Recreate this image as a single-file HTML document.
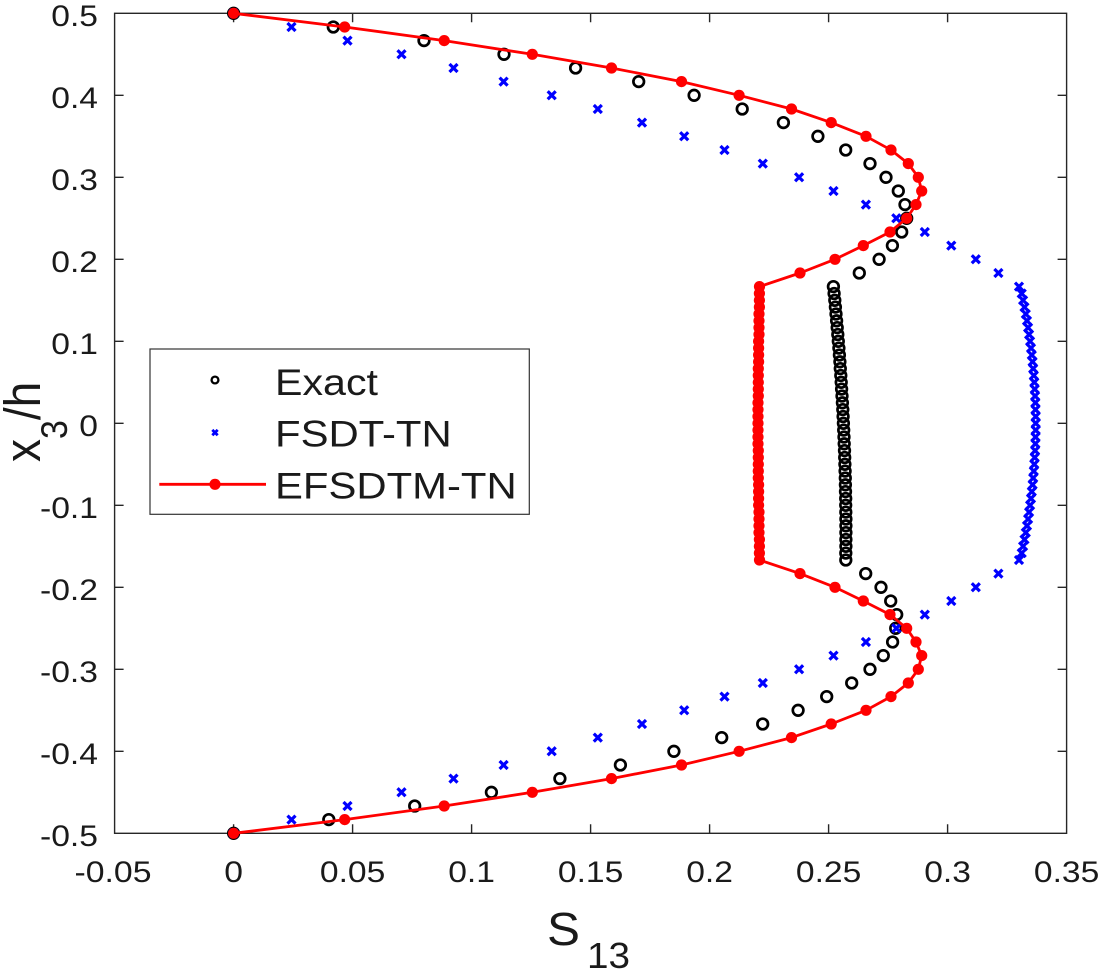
<!DOCTYPE html>
<html><head><meta charset="utf-8"><style>
html,body{margin:0;padding:0;background:#fff;}
svg{display:block;}
text{font-family:"Liberation Sans",Arial,sans-serif;fill:#1a1a1a;}
</style></head><body>
<svg width="1102" height="973" viewBox="0 0 1102 973" xmlns="http://www.w3.org/2000/svg">
<defs>
<marker id="mo" markerWidth="16" markerHeight="16" refX="8" refY="8" markerUnits="userSpaceOnUse" overflow="visible"><circle cx="8" cy="8" r="5.3" fill="none" stroke="#000" stroke-width="2.7"/></marker>
<marker id="mx" markerWidth="16" markerHeight="16" refX="8" refY="8" markerUnits="userSpaceOnUse" overflow="visible"><path d="M4 4L12 12M12 4L4 12" stroke="#0000ff" stroke-width="3.2" fill="none"/></marker>
<marker id="md" markerWidth="16" markerHeight="16" refX="8" refY="8" markerUnits="userSpaceOnUse" overflow="visible"><circle cx="8" cy="8" r="5.6" fill="#ff0000"/></marker>
</defs>
<rect width="1102" height="973" fill="#fff"/>
<rect x="114.6" y="13.3" width="952" height="820" fill="none" stroke="#262626" stroke-width="1.4"/>
<path stroke="#262626" stroke-width="1.4" fill="none" d="
M114.6 95.3h9M114.6 177.3h9M114.6 259.3h9M114.6 341.3h9M114.6 423.3h9M114.6 505.3h9M114.6 587.3h9M114.6 669.3h9M114.6 751.3h9
M1066.6 95.3h-9M1066.6 177.3h-9M1066.6 259.3h-9M1066.6 341.3h-9M1066.6 423.3h-9M1066.6 505.3h-9M1066.6 587.3h-9M1066.6 669.3h-9M1066.6 751.3h-9
M233.6 833.3v-9M352.6 833.3v-9M471.6 833.3v-9M590.6 833.3v-9M709.6 833.3v-9M828.6 833.3v-9M947.6 833.3v-9
M233.6 13.3v9M352.6 13.3v9M471.6 13.3v9M590.6 13.3v9M709.6 13.3v9M828.6 13.3v9M947.6 13.3v9"/>
<g font-size="30">
<text x="51.3" y="26.1" textLength="46.7" lengthAdjust="spacingAndGlyphs">0.5</text>
<text x="51.3" y="108.1" textLength="46.7" lengthAdjust="spacingAndGlyphs">0.4</text>
<text x="51.3" y="190.1" textLength="46.7" lengthAdjust="spacingAndGlyphs">0.3</text>
<text x="51.3" y="272.1" textLength="46.7" lengthAdjust="spacingAndGlyphs">0.2</text>
<text x="51.3" y="354.1" textLength="46.7" lengthAdjust="spacingAndGlyphs">0.1</text>
<text x="79.3" y="436.1" textLength="18.7" lengthAdjust="spacingAndGlyphs">0</text>
<text x="40" y="518.1" textLength="58" lengthAdjust="spacingAndGlyphs">-0.1</text>
<text x="40" y="600.1" textLength="58" lengthAdjust="spacingAndGlyphs">-0.2</text>
<text x="40" y="682.1" textLength="58" lengthAdjust="spacingAndGlyphs">-0.3</text>
<text x="40" y="764.1" textLength="58" lengthAdjust="spacingAndGlyphs">-0.4</text>
<text x="40" y="846.1" textLength="58" lengthAdjust="spacingAndGlyphs">-0.5</text>
<text x="74.5" y="882" textLength="77" lengthAdjust="spacingAndGlyphs">-0.05</text>
<text x="224.3" y="882" textLength="18.7" lengthAdjust="spacingAndGlyphs">0</text>
<text x="319.9" y="882" textLength="65.4" lengthAdjust="spacingAndGlyphs">0.05</text>
<text x="448.25" y="882" textLength="46.7" lengthAdjust="spacingAndGlyphs">0.1</text>
<text x="557.9" y="882" textLength="65.4" lengthAdjust="spacingAndGlyphs">0.15</text>
<text x="686.25" y="882" textLength="46.7" lengthAdjust="spacingAndGlyphs">0.2</text>
<text x="795.9" y="882" textLength="65.4" lengthAdjust="spacingAndGlyphs">0.25</text>
<text x="924.25" y="882" textLength="46.7" lengthAdjust="spacingAndGlyphs">0.3</text>
<text x="1033.9" y="882" textLength="65.4" lengthAdjust="spacingAndGlyphs">0.35</text>
</g>
<text x="547" y="945" font-size="46" textLength="33" lengthAdjust="spacingAndGlyphs">S</text>
<text x="587" y="968" font-size="36" textLength="43" lengthAdjust="spacingAndGlyphs">13</text>
<g transform="translate(40,462) scale(1.1,1) rotate(-90)">
<text x="0" y="0" font-size="46">x</text>
<text x="23" y="24.5" font-size="34">3</text>
<text x="41.9" y="0" font-size="46">/h</text>
</g>
<polyline fill="none" stroke="none" marker-start="url(#mo)" marker-mid="url(#mo)" marker-end="url(#mo)" points="
233.6,13.3 333.3,27.0 424.0,40.6 504.0,54.3 575.6,68.0 638.7,81.6 694.1,95.3 742.2,109.0 783.4,122.6 817.9,136.3 845.7,150.0 870.0,163.6 886.0,177.3 898.3,191.0 905.0,204.6 906.7,218.3 901.7,232.0 892.4,245.6 879.1,259.3 859.3,273.0 833.4,286.6
834.1,293.5 834.8,300.3 835.4,307.1 836.0,314.0 836.6,320.8 837.2,327.6 837.8,334.5 838.3,341.3 838.9,348.1 839.4,355.0 839.9,361.8 840.3,368.6 840.8,375.5 841.2,382.3 841.6,389.1 842.0,396.0 842.4,402.8 842.8,409.6 843.1,416.5 843.4,423.3 843.7,430.1 844.0,437.0 844.2,443.8 844.5,450.6 844.7,457.5 844.9,464.3 845.1,471.1 845.3,478.0 845.4,484.8 845.5,491.6 845.7,498.5 845.7,505.3 845.8,512.1 845.9,519.0 845.9,525.8 845.9,532.6 845.9,539.5 845.9,546.3 845.8,553.1 845.8,560.0
865.7,573.6 881.0,587.3 890.7,601.0 896.7,614.6 895.7,628.3 892.6,642.0 883.3,655.6 870.0,669.3 851.7,683.0 826.7,696.6 798.1,710.3 762.7,724.0 721.7,737.6 673.9,751.3 620.4,765.0 559.9,778.6 491.4,792.3 414.7,806.0 328.8,819.6 233.6,833.3"/>
<polyline fill="none" stroke="none" marker-start="url(#mx)" marker-mid="url(#mx)" marker-end="url(#mx)" points="
233.6,13.3 291.5,27.0 347.5,40.6 401.5,54.3 453.5,68.0 503.6,81.6 551.7,95.3 597.8,109.0 642.0,122.6 684.2,136.3 724.5,150.0 762.8,163.6 799.1,177.3 833.5,191.0 865.9,204.6 896.3,218.3 924.8,232.0 951.3,245.6 975.8,259.3 998.4,273.0 1019.0,286.6
1021.7,293.5 1023.1,300.3 1024.5,307.1 1025.8,314.0 1027.0,320.8 1028.1,327.6 1029.1,334.5 1030.1,341.3 1031.0,348.1 1031.8,355.0 1032.6,361.8 1033.2,368.6 1033.8,375.5 1034.3,382.3 1034.7,389.1 1035.1,396.0 1035.4,402.8 1035.5,409.6 1035.7,416.5 1035.7,423.3 1035.7,430.1 1035.5,437.0 1035.4,443.8 1035.1,450.6 1034.7,457.5 1034.3,464.3 1033.8,471.1 1033.2,478.0 1032.6,484.8 1031.8,491.6 1031.0,498.5 1030.1,505.3 1029.1,512.1 1028.1,519.0 1027.0,525.8 1025.8,532.6 1024.5,539.5 1023.1,546.3 1021.7,553.1
1019.0,560.0 998.4,573.6 975.8,587.3 951.3,601.0 924.8,614.6 896.3,628.3 865.9,642.0 833.5,655.6 799.1,669.3 762.8,683.0 724.5,696.6 684.2,710.3 642.0,724.0 597.8,737.6 551.7,751.3 503.6,765.0 453.5,778.6 401.5,792.3 347.5,806.0 291.5,819.6 233.6,833.3"/>
<polyline fill="none" stroke="#ff0000" stroke-width="2.8" stroke-linejoin="round" marker-start="url(#md)" marker-mid="url(#md)" marker-end="url(#md)" points="
233.6,13.3 344.7,27.0 444.2,40.6 532.3,54.3 611.5,68.0 681.5,81.6 739.1,95.3 791.5,109.0 831.2,122.6 866.0,136.3 891.0,150.0 908.3,163.6 918.3,177.3 921.7,191.0 916.0,204.6 906.7,218.3 890.0,232.0 863.3,245.6 835.0,259.3 800.0,273.0 759.5,286.6
759.4,293.5 759.4,300.3 759.4,307.1 759.0,314.0 759.0,320.8 759.0,327.6 759.0,334.5 758.6,341.3 758.6,348.1 758.6,355.0 758.6,361.8 758.3,368.6 758.3,375.5 758.3,382.3 758.3,389.1 758.3,396.0 758.0,402.8 758.0,409.6 758.0,416.5 758.0,423.3 758.0,430.1 758.0,437.0 758.0,443.8 758.3,450.6 758.3,457.5 758.3,464.3 758.3,471.1 758.3,478.0 758.6,484.8 758.6,491.6 758.6,498.5 758.6,505.3 759.0,512.1 759.0,519.0 759.0,525.8 759.0,532.6 759.4,539.5 759.4,546.3 759.4,553.1
759.5,560.0 800.0,573.6 835.0,587.3 863.3,601.0 890.0,614.6 906.7,628.3 916.0,642.0 921.7,655.6 918.3,669.3 908.3,683.0 891.0,696.6 866.0,710.3 831.2,724.0 791.5,737.6 739.1,751.3 681.5,765.0 611.5,778.6 532.3,792.3 444.2,806.0 344.7,819.6 233.6,833.3"/>
<rect x="150" y="349" width="379.3" height="165.3" fill="#fff" stroke="#333" stroke-width="1.2"/>
<circle cx="215" cy="380" r="3.4" fill="none" stroke="#000" stroke-width="2.3"/>
<path d="M212.3 429.9l5.4 5.4m0-5.4l-5.4 5.4" stroke="#0000ff" stroke-width="2.8" fill="none"/>
<line x1="159.3" y1="484.3" x2="266" y2="484.3" stroke="#ff0000" stroke-width="2.8"/>
<circle cx="215" cy="484.3" r="5.6" fill="#ff0000"/>
<text x="275" y="395" font-size="37" textLength="103" lengthAdjust="spacingAndGlyphs">Exact</text>
<text x="275" y="446.7" font-size="37" textLength="176.7" lengthAdjust="spacingAndGlyphs">FSDT-TN</text>
<text x="275" y="498.3" font-size="37" textLength="241.7" lengthAdjust="spacingAndGlyphs">EFSDTM-TN</text>
</svg>
</body></html>
